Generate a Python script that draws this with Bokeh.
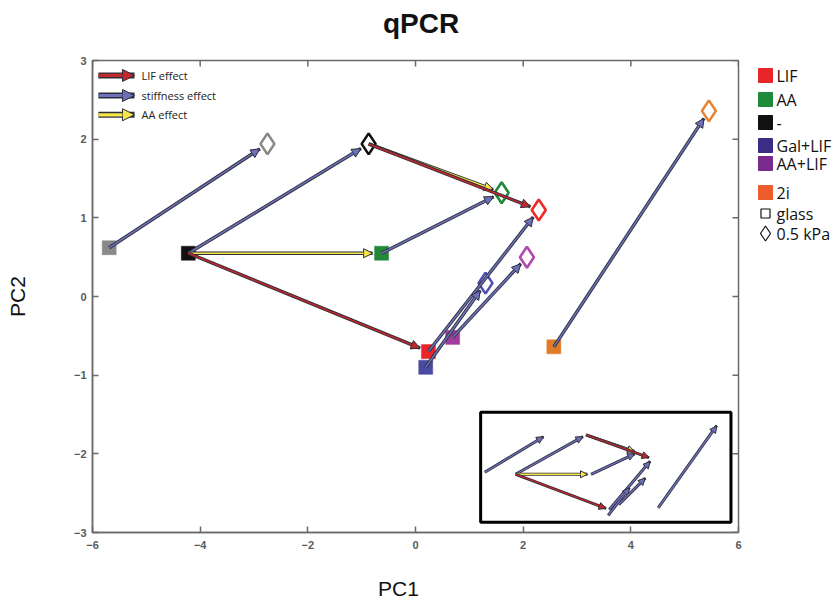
import numpy as np
from bokeh.plotting import figure
from bokeh.models import (Range1d, FixedTicker, Arrow, NormalHead, Div,
                          ColumnDataSource, Label, BoxAnnotation)
from bokeh.layouts import row, column
from bokeh.core.properties import value
from bokeh.embed import file_html
from bokeh.resources import INLINE

# ---------------- data ----------------
conditions = ["ctrl", "-", "AA", "LIF", "Gal+LIF", "AA+LIF", "2i"]
glass_pc1 = [-5.69, -4.22, -0.63, 0.24, 0.19, 0.69, 2.57]
glass_pc2 = [0.62, 0.55, 0.55, -0.70, -0.90, -0.52, -0.64]
soft_pc1 = [-2.75, -0.87, 1.60, 2.29, 1.30, 2.07, 5.45]
soft_pc2 = [1.94, 1.94, 1.32, 1.10, 0.17, 0.50, 2.36]
square_colors = ["#8a8888", "#111111", "#23883a", "#e8262a", "#4a4aa0", "#a03c9c", "#e07b28"]
diamond_colors = ["#8a8888", "#111111", "#23883a", "#ee2a2a", "#4e4eb4", "#b04aae", "#e88430"]

legend_labels = ["LIF", "AA", "-", "Gal+LIF", "AA+LIF", "2i"]
legend_colors = ["#e8262a", "#1e8a3c", "#111111", "#3b2d85", "#7a2a8a", "#ee5b2c"]
effect_labels = ["LIF effect", "stiffness effect", "AA effect"]
effect_colors = ["#c0282c", "#6b70b8", "#f5e64a"]

x_ticks = [-6, -4, -2, 0, 2, 4, 6]
y_ticks = [-3, -2, -1, 0, 1, 2, 3]

# ---------------- layout constants ----------------
FR_W, FR_H = 646, 472
SX, SY = FR_W / 12.0, FR_H / 6.0
OUTLINE = "#2e2e3a"
AXC = "#6a6a6a"
TOP_H, BOT_H = 52, 48
H = 8 + FR_H + 22

title_div = Div(text='<div style="margin-left:383px;font-family:\'Liberation Sans\';'
                     'font-size:28px;font-weight:bold;line-height:47px;color:#111111;">qPCR</div>',
                width=836, height=TOP_H, margin=0)
pc1_div = Div(text='<div style="margin-left:378px;margin-top:23px;font-family:\'Liberation Sans\';'
                   'font-size:21px;line-height:24px;color:#111111;">PC1</div>',
              width=836, height=BOT_H, margin=0)

p = figure(width=748, height=H, x_range=Range1d(-6, 6), y_range=Range1d(-3, 3),
           output_backend="svg", toolbar_location=None, title=None,
           min_border_left=92, min_border_right=10, min_border_top=8, min_border_bottom=22,
           outline_line_color=AXC, outline_line_width=1.5)
p.grid.visible = False

for ax in (p.xaxis[0], p.yaxis[0]):
    ax.major_tick_in = 6
    ax.major_tick_out = 0
    ax.minor_tick_line_color = None
    ax.axis_line_color = AXC
    ax.axis_line_width = 1.5
    ax.major_tick_line_color = AXC
    ax.major_tick_line_width = 1.5
    ax.major_label_text_font = "Liberation Sans"
    ax.major_label_text_font_style = "bold"
    ax.major_label_text_color = "#5a5a5a"
    ax.major_label_text_font_size = "11px"
    ax.axis_label_text_font = "Liberation Sans"
    ax.axis_label_text_font_size = "21px"
    ax.axis_label_text_font_style = "normal"
    ax.axis_label_text_color = "#111111"
p.xaxis.major_label_standoff = 8
p.yaxis.major_label_standoff = 6
p.xaxis.ticker = FixedTicker(ticks=x_ticks)
p.yaxis.ticker = FixedTicker(ticks=y_ticks)
p.yaxis.axis_label = "PC2"
p.yaxis.axis_label_standoff = 42

# inward ticks on the top and right edges of the box
tick_len_x = 6 / SY
tick_len_y = 6 / SX
p.segment(x0=x_ticks, y0=[3] * len(x_ticks), x1=x_ticks, y1=[3 - tick_len_x] * len(x_ticks),
          line_color=AXC, line_width=1.5)
p.segment(x0=[6] * len(y_ticks), y0=y_ticks, x1=[6 - tick_len_y] * len(y_ticks), y1=y_ticks,
          line_color=AXC, line_width=1.5)

# ---------------- arrows ----------------
idx = {c: i for i, c in enumerate(conditions)}

def shorten(x0, y0, x1, y1, gap):
    dx, dy = (x1 - x0) * SX, (y1 - y0) * SY
    L = np.hypot(dx, dy)
    f = (L - gap) / L
    return x0 + (x1 - x0) * f, y0 + (y1 - y0) * f

def build(pairs, gap=9):
    xs0, ys0, xs1, ys1 = [], [], [], []
    for (a, b) in pairs:
        x1, y1 = shorten(a[0], a[1], b[0], b[1], gap)
        xs0.append(a[0]); ys0.append(a[1]); xs1.append(x1); ys1.append(y1)
    return dict(x0=xs0, y0=ys0, x1=xs1, y1=ys1)

G = list(zip(glass_pc1, glass_pc2))
S = list(zip(soft_pc1, soft_pc2))
stiff_pairs = [(G[i], S[i]) for i in range(len(conditions))]
aa_pairs = [(G[idx["-"]], G[idx["AA"]]), (S[idx["-"]], S[idx["AA"]])]
lif_pairs = [(G[idx["-"]], G[idx["LIF"]]), (S[idx["-"]], S[idx["LIF"]])]

groups = [(build(stiff_pairs), effect_colors[1]),
          (build(aa_pairs), effect_colors[2]),
          (build(lif_pairs), effect_colors[0])]

p.scatter(glass_pc1, glass_pc2, marker="square", size=14, fill_color=square_colors,
          line_color=square_colors, line_width=0.5)

def draw_arrows(d, color, outer_w, inner_w, head):
    src = ColumnDataSource(d)
    p.add_layout(Arrow(x_start="x0", y_start="y0", x_end="x1", y_end="y1", source=src,
                       line_color=OUTLINE, line_width=outer_w, end=None))
    p.add_layout(Arrow(x_start="x0", y_start="y0", x_end="x1", y_end="y1", source=src,
                       line_color=color, line_width=inner_w,
                       end=NormalHead(size=head, fill_color=color, line_color=OUTLINE, line_width=1)))

for d, c in groups:
    draw_arrows(d, c, 3.4, 1.6, 9)

p.scatter(soft_pc1, soft_pc2, marker="diamond", size=21, fill_color=None,
          line_color=diamond_colors, line_width=2.6)

# ---------------- inset ----------------
INS_X0, INS_Y0 = 1.86, -2.26
INS_SX, INS_SY = 0.39, 0.36
ax0, ay0 = G[idx["-"]]
p.add_layout(BoxAnnotation(left=1.21, right=5.86, bottom=-2.87, top=-1.47,
                           fill_color=None, line_color="black", line_alpha=1.0, line_width=3))
for d, c in groups:
    dd = dict(x0=[INS_X0 + INS_SX * (v - ax0) for v in d["x0"]],
              x1=[INS_X0 + INS_SX * (v - ax0) for v in d["x1"]],
              y0=[INS_Y0 + INS_SY * (v - ay0) for v in d["y0"]],
              y1=[INS_Y0 + INS_SY * (v - ay0) for v in d["y1"]])
    draw_arrows(dd, c, 3.0, 1.4, 7)

# ---------------- effect legend (top left) ----------------
leg_y = [2.81, 2.555, 2.31]
for lab, c, yy in zip(effect_labels, effect_colors, leg_y):
    draw_arrows(dict(x0=[-5.89], y0=[yy], x1=[-5.22], y1=[yy]), c, 6, 3.2, 12)
    p.add_layout(Label(x=-5.09, y=yy, text=lab, text_font="Open Sans", text_font_size="11px",
                       text_baseline="middle", text_color="#222222"))

# ---------------- right legend (its frame is aligned with the main frame) ----------------
leg = figure(width=88, height=H, x_range=Range1d(0, 88), y_range=Range1d(FR_H, 0),
             output_backend="svg", toolbar_location=None, min_border=0, title=None,
             outline_line_color=None, x_axis_type=None, y_axis_type=None)
leg.grid.visible = False
row_y = [15, 39, 62, 85, 103, 132, 153, 173]
mx, tx = 17, 28
leg.scatter([mx] * 6, row_y[:6], marker="square", size=14, fill_color=legend_colors,
            line_color=legend_colors)
leg.scatter([mx], [row_y[6]], marker="square", size=9, fill_color=None, line_color="#111111", line_width=1.2)
leg.scatter([mx], [row_y[7]], marker="diamond", size=15, fill_color=None, line_color="#111111", line_width=1.2)
leg.text([tx] * 8, row_y, text=legend_labels + ["glass", "0.5 kPa"], text_font_size="16px",
         text_baseline="middle", text_color="#111111", text_font=value("Open Sans"))

layout = column(title_div, row(p, leg), pc1_div)
open("out.html", "w").write(file_html(layout, INLINE))
